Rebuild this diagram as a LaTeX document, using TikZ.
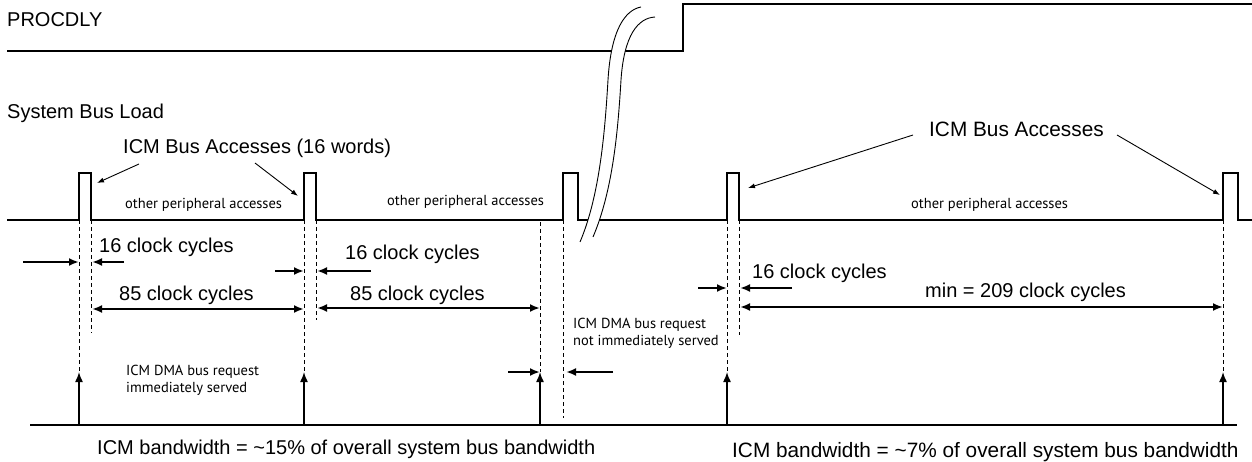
\documentclass[tikz,border=0pt]{standalone}
\usepackage{fontspec}
\setmainfont{Liberation Sans}
\newfontfamily\notefont{PT Sans}
\usetikzlibrary{arrows.meta,positioning,calc}
\tikzset{
  sigline/.style={line width=2.3pt, line join=miter},
  baseln/.style={line width=1.5pt},
  breakln/.style={line width=0.9pt},
  dashln/.style={line width=1pt, dash pattern=on 4pt off 3pt},
  cyclearr/.style={-{Latex[length=10pt,width=8pt]}, line width=2.3pt},
  dblarr/.style={{Latex[length=10pt,width=8pt]}-{Latex[length=10pt,width=8pt]}, line width=2.3pt},
  reqarr/.style={-{Latex[length=10pt,width=8pt]}, line width=1.5pt},
  ptrarr/.style={-{Latex[length=7pt,width=5pt]}, line width=0.9pt},
  biglbl/.style={font=\fontsize{20}{24}\selectfont, inner sep=0pt, anchor=base west},
  wideLbl/.style={font=\fontsize{20.8}{25}\selectfont, inner sep=0pt, anchor=base west},
  notelbl/.style={font=\notefont\fontsize{14.5}{17}\selectfont, inner sep=0pt, anchor=base west, align=left},
}

\begin{document}
\begin{tikzpicture}[x=1pt, y=-1pt]
  \useasboundingbox (0,0) rectangle (1252,462);

  \node[biglbl] (procname) at (7,27) {PROCDLY};
  \node[biglbl] (busname) at (7,119) {System Bus Load};

  % PROCDLY signal
  \draw[sigline] (7,51) -- (683,51) -- (683,4) -- (1252,4);

  % bus load signal with the ICM pulses
  \foreach \n/\a/\b in {1/79/91, 2/304/316, 3/563/578, 4/727/739, 5/1223/1238} {
    \coordinate (pl\n) at (\a,220);
    \coordinate (pr\n) at (\b,220);
  }
  \draw[sigline] (7,220)
    foreach \a/\b in {79/91, 304/316, 563/578, 727/739, 1223/1238} {
      -- (\a,220) -- (\a,173) -- (\b,173) -- (\b,220) }
    -- (1252,220);

  % time break
  \fill[white] (580,242) .. controls (600,195) and (605,130) .. (608,80)
    .. controls (611,30) and (625,10) .. (641,7) -- (655,17)
    .. controls (638,18) and (624,35) .. (621,80)
    .. controls (618,130) and (613,190) .. (593,237) -- cycle;
  \draw[breakln] (580,242) .. controls (600,195) and (605,130) .. (608,80)
    .. controls (611,30) and (625,10) .. (641,7);
  \draw[breakln] (593,237) .. controls (613,190) and (618,130) .. (621,80)
    .. controls (624,35) and (638,18) .. (655,17);

  % requests
  \coordinate (base0) at (30,425);
  \coordinate (base1) at (1237,425);
  \draw[baseln] (base0) -- (base1);
  \foreach \n/\x in {1/79, 2/304, 3/540, 4/727, 5/1223} {
    \coordinate (rq\n) at (\x,372);
    \coordinate (bs\n) at (\x,425);
    \draw[reqarr] (bs\n) -- (rq\n);
  }
  \coordinate (rq3top) at (540,222);
  \coordinate (pr1end) at (91,333);
  \coordinate (pr2end) at (316,320);
  \coordinate (pl3end) at (563,418);
  \coordinate (pr4end) at (739,335);

  \draw[dashln] (pl1) -- (rq1);
  \draw[dashln] (pl2) -- (rq2);
  \draw[dashln] (rq3top) -- (rq3);
  \draw[dashln] (pl4) -- (rq4);
  \draw[dashln] (pl5) -- (rq5);
  \draw[dashln] (pr1) -- (pr1end);
  \draw[dashln] (pr2) -- (pr2end);
  \draw[dashln] (pl3) -- (pl3end);
  \draw[dashln] (pr4) -- (pr4end);

  % 16 cycle markers
  \foreach \y/\l/\r/\ls/\rs in {262/79/91/23/124, 271/304/316/275/371, 288/727/739/698/792, 372/540/565/508/613} {
    \draw[cyclearr] (\ls,\y) -- (\l,\y);
    \draw[cyclearr] (\rs,\y) -- (\r+1,\y);
  }

  % spans between accesses
  \draw[dblarr] (92,309) -- (rq2 |- 0,309);
  \draw[dblarr] (317,308) -- (rq3 |- 0,308);
  \draw[dblarr] (740,307) -- (rq5 |- 0,307);

  \node[biglbl] (cyc16a) at (99,253) {16 clock cycles};
  \node[biglbl] (cyc16b) at (345,259) {16 clock cycles};
  \node[biglbl] (cyc16c) at (752,278) {16 clock cycles};
  \node[biglbl] (cyc85a) at (119,300) {85 clock cycles};
  \node[biglbl] (cyc85b) at (350,300) {85 clock cycles};
  \node[biglbl] (cyc209) at (925,298) {min = 209 clock cycles};

  \node[notelbl] (othA) at (125,209) {other peripheral accesses};
  \node[notelbl] (othB) at (387,206) {other peripheral accesses};
  \node[notelbl] (othC) at (911,209) {other peripheral accesses};
  \node[notelbl] (reqA) at (126,392) {ICM DMA bus request\\immediately served};
  \node[notelbl] (reqB) at (573,345) {ICM DMA bus request\\not immediately served};

  % access labels and pointers
  \node[biglbl] (accL) at (123,154) {ICM Bus Accesses (16 words)};
  \node[wideLbl] (accR) at (929,137) {ICM Bus Accesses};
  \coordinate (accL1) at (139,164);
  \coordinate (accL2) at (255,163);
  \coordinate (accR1) at (913,135);
  \coordinate (accR2) at (1117,135);
  \coordinate (hit1) at (97,183);
  \coordinate (hit2) at (298,196);
  \coordinate (hit4) at (748,188);
  \coordinate (hit5) at (1220,195);
  \draw[ptrarr] (accL1) -- (hit1);
  \draw[ptrarr] (accL2) -- (hit2);
  \draw[ptrarr] (accR1) -- (hit4);
  \draw[ptrarr] (accR2) -- (hit5);

  \node[biglbl] (bwA) at (97,454) {ICM bandwidth = \textasciitilde15\% of overall system bus bandwidth};
  \node[wideLbl] (bwB) at (732,457) {ICM bandwidth = \textasciitilde7\% of overall system bus bandwidth};
\end{tikzpicture}
\end{document}
